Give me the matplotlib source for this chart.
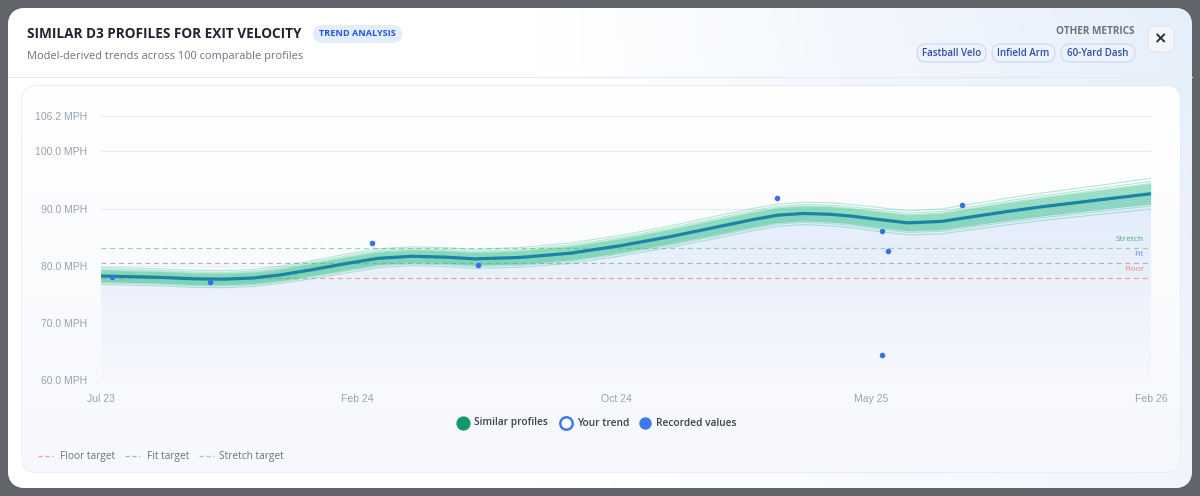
import numpy as np
import pandas as pd
import matplotlib
matplotlib.use('Agg')
import matplotlib.pyplot as plt
import matplotlib.dates as mdates
from matplotlib.patches import FancyBboxPatch
from matplotlib.lines import Line2D

# Median trend of similar profiles (MPH)
trend_dates = pd.to_datetime([
    '2023-07-01', '2023-07-25', '2023-08-25', '2023-09-24', '2023-10-20', '2023-11-15',
    '2023-12-10', '2024-01-07', '2024-02-06', '2024-03-07', '2024-04-06', '2024-05-06',
    '2024-06-02', '2024-07-13', '2024-08-27', '2024-10-11', '2024-11-25', '2025-01-09',
    '2025-02-08', '2025-03-02', '2025-03-25', '2025-04-18', '2025-05-06', '2025-05-27',
    '2025-06-27', '2025-07-27', '2025-08-25', '2025-09-25', '2025-10-25', '2025-11-24',
    '2025-12-24', '2026-02-01'])
trend_values = np.array([
    78.2, 78.1, 77.95, 77.7, 77.65, 77.85,
    78.4, 79.3, 80.35, 81.3, 81.65, 81.5,
    81.2, 81.45, 82.2, 83.5, 85.1, 86.9,
    88.1, 88.85, 89.15, 89.0, 88.7, 88.2,
    87.5, 87.75, 88.6, 89.5, 90.3, 91.0,
    91.7, 92.6])
# half-width of the similar-profile bundle at each trend date
bundle_spread = np.array([
    1.0, 1.0, 1.0, 1.0, 1.0, 1.0,
    1.0, 1.05, 1.1, 1.1, 1.1, 1.1,
    1.1, 1.15, 1.2, 1.2, 1.25, 1.3,
    1.3, 1.3, 1.3, 1.35, 1.35, 1.4,
    1.4, 1.45, 1.5, 1.55, 1.6, 1.65,
    1.7, 1.8])
# relative position of each drawn profile inside the bundle
profile_weights = [-1.5, -1.2, -1.0, -0.85, -0.7, -0.55, -0.4, -0.25, -0.1,
                   0.1, 0.25, 0.4, 0.55, 0.7, 0.85, 1.0, 1.2, 1.5]

# Recorded values
rec_dates = pd.to_datetime(['2023-07-11', '2023-10-07', '2024-03-01', '2024-06-05',
                            '2025-03-01', '2025-06-04', '2025-06-09', '2025-06-04',
                            '2025-08-15'])
rec_values = [78.1, 77.1, 84.0, 80.2, 91.9, 86.1, 82.5, 64.3, 90.6]

# Targets
target_names = ['Floor', 'Fit', 'Stretch']
target_values = [77.8, 80.5, 83.1]
target_colors = ['#e9a594', '#a7b2d4', '#9dd0b2']
target_label_colors = ['#e08a70', '#6f8fe0', '#4aa87c']

y_ticks = [60, 70, 80, 90, 100, 106.2]
x_tick_dates = pd.to_datetime(['2023-07-01', '2024-02-17', '2024-10-07', '2025-05-25', '2026-02-01'])
x_tick_labels = ['Jul 23', 'Feb 24', 'Oct 24', 'May 25', 'Feb 26']

other_metrics = ['Fastball Velo', 'Infield Arm', '60-Yard Dash']

W, H = 1200, 496
fig = plt.figure(figsize=(W / 100, H / 100), dpi=100)
fig.patch.set_facecolor('#616469')

# background axes in pixel units
bg = fig.add_axes([0, 0, 1, 1])
bg.set_xlim(0, W)
bg.set_ylim(H, 0)
bg.axis('off')

modal = FancyBboxPatch((8, 8), 1184, 480, boxstyle='round,pad=0,rounding_size=18',
                       fc='white', ec='none')
bg.add_patch(modal)
# bluish tint towards the top right of the modal
gx = np.linspace(0, 1, 300)
gy = np.linspace(0, 1, 120)
tint = np.clip((gx[None, :] - 0.45) / 0.55, 0, 1) * (0.55 + 0.45 * (1 - gy[:, None]))
c0 = np.array([1.0, 1.0, 1.0])
c1 = np.array([0.90, 0.935, 0.985])
img = c0 + (c1 - c0) * tint[..., None]
im = bg.imshow(img, extent=(8, 1192, 488, 8), aspect='auto', zorder=1)
im.set_clip_path(modal)
bg.plot([8, 1192], [77, 77], color='#e6eaf2', lw=0.8, zorder=2)

card = FancyBboxPatch((22, 86), 1158, 386, boxstyle='round,pad=0,rounding_size=14',
                      fc='#fdfdff', ec='#e2e6ee', lw=0.9, zorder=3)
bg.add_patch(card)
cy = np.linspace(0, 1, 100)[:, None, None]
card_img = np.array([1.0, 1.0, 1.0]) + (np.array([0.965, 0.972, 0.99]) - 1.0) * cy
cim = bg.imshow(np.repeat(card_img, 2, axis=1), extent=(22, 1180, 472, 86), aspect='auto', zorder=3.5)
cim.set_clip_path(card)

ui = 'Open Sans'
bg.text(27, 34, 'SIMILAR D3 PROFILES FOR EXIT VELOCITY', fontsize=9.8, fontweight='bold',
        family=ui, color='#1f2430', va='center', ha='left', zorder=5)
bg.add_patch(FancyBboxPatch((313, 25), 89, 18, boxstyle='round,pad=0,rounding_size=9',
                            fc='#e4edfd', ec='none', zorder=4))
bg.text(357.5, 34, 'TREND ANALYSIS', fontsize=6.6, fontweight='bold', family=ui,
        color='#2557d6', va='center', ha='center', zorder=5)
bg.text(27, 57, 'Model-derived trends across 100 comparable profiles', fontsize=7.9,
        family=ui, color='#6b7280', va='center', ha='left', zorder=5)

bg.text(1134, 32, 'OTHER METRICS', fontsize=7.2, fontweight='bold', family=ui,
        color='#6b7280', va='center', ha='right', zorder=5)
pill_x = [(917, 986), (992, 1055), (1061, 1135)]
for name, (x0, x1) in zip(other_metrics, pill_x):
    bg.add_patch(FancyBboxPatch((x0, 44), x1 - x0, 18, boxstyle='round,pad=0,rounding_size=9',
                                fc='#edf2fc', ec='#c9d7f3', lw=0.8, zorder=4))
    bg.text((x0 + x1) / 2, 53, name, fontsize=7.0, fontweight='semibold', family=ui,
            color='#2d4fa8', va='center', ha='center', zorder=5)
bg.add_patch(FancyBboxPatch((1148, 26), 26, 26, boxstyle='round,pad=0,rounding_size=7',
                            fc='#f4f6fa', ec='#e1e6ee', lw=0.8, zorder=4))
bg.text(1161, 39, '\u00d7', fontsize=11.5, fontweight='bold', color='#1f2937',
        va='center', ha='center', zorder=5)

# main chart axes
left, right, top, bottom = 101, 1151, 116, 380
ax = fig.add_axes([left / W, 1 - bottom / H, (right - left) / W, (bottom - top) / H])
ax.patch.set_alpha(0)
for s in ax.spines.values():
    s.set_visible(False)
ax.set_yticks(y_ticks)
ax.set_yticklabels([f'{v:.1f} MPH' for v in y_ticks])
ax.set_xticks(x_tick_dates)
ax.set_xticklabels(x_tick_labels)
ax.tick_params(length=0, labelsize=7.5, labelcolor='#98a1b3')
ax.tick_params(axis='y', pad=10)
ax.tick_params(axis='x', pad=10)
for lab in ax.get_xticklabels() + ax.get_yticklabels():
    lab.set_family('Liberation Sans')
ax.grid(axis='y', color='#e7eaf0', lw=0.8)
ax.set_axisbelow(True)

# gradient fill under the trend
xnum = mdates.date2num(trend_dates)
area = ax.fill_between(trend_dates, trend_values, 60, color='none', lw=0)
grad = np.linspace(0, 1, 200)[:, None, None]
top_c = np.array([0.885, 0.92, 0.985])
bot_c = np.array([0.965, 0.972, 0.992])
gimg = top_c + (bot_c - top_c) * grad
gim = ax.imshow(np.repeat(gimg, 2, axis=1), extent=(xnum[0], xnum[-1], 60, 94),
                aspect='auto', zorder=1)
gim.set_clip_path(area.get_paths()[0], transform=ax.transData)
ax.set_ylim(60, 106.2)
ax.set_xlim(trend_dates[0], trend_dates[-1])

# target lines
for name, val, col, lcol in zip(target_names, target_values, target_colors, target_label_colors):
    ax.axhline(val, color=col, lw=0.9, dashes=(4, 3), zorder=2)
    ax.annotate(name, xy=(1, val), xycoords=('axes fraction', 'data'), xytext=(-5, 6),
                textcoords='offset points', ha='right', va='center', fontsize=6,
                family=ui, color=lcol, zorder=6)

# similar profiles bundle
ax.fill_between(trend_dates, trend_values - bundle_spread, trend_values + bundle_spread,
                color='#45c995', alpha=0.32, lw=0, zorder=3)
for w in profile_weights:
    ax.plot(trend_dates, trend_values + w * bundle_spread, color='#2fbf87',
            lw=0.8, alpha=0.35, zorder=3)
ax.plot(trend_dates, trend_values, color='#1b83a3', lw=2.3, zorder=4,
        solid_capstyle='round')
ax.scatter(rec_dates, rec_values, s=16, color='#3b6fe3', zorder=5, lw=0)

# legends drawn in pixel space
bg.scatter([463], [423], s=105, color='#11996b', zorder=6, lw=0)
bg.text(474, 423, 'Similar profiles', fontsize=7.3, fontweight='semibold', family=ui,
        color='#374151', va='center', zorder=6)
bg.scatter([566], [423], s=80, facecolor='white', edgecolor='#3b7cf0', lw=1.8, zorder=6)
bg.text(577, 423, 'Your trend', fontsize=7.3, fontweight='semibold', family=ui,
        color='#374151', va='center', zorder=6)
bg.scatter([645], [423], s=80, color='#3b7cf0', zorder=6, lw=0)
bg.text(656, 423, 'Recorded values', fontsize=7.3, fontweight='semibold', family=ui,
        color='#374151', va='center', zorder=6)

leg2 = [('Floor target', 38, 60), ('Fit target', 125, 147), ('Stretch target', 199, 219)]
for (label, lx, tx), col in zip(leg2, target_colors):
    bg.add_line(Line2D([lx, lx + 15], [456, 456], color=col, lw=1.0, dashes=(3, 2), zorder=6))
    bg.text(tx, 456, label, fontsize=7.3, family=ui, color='#6b7280', va='center', zorder=6)

fig.savefig('out.png', dpi=100, facecolor=fig.get_facecolor())
